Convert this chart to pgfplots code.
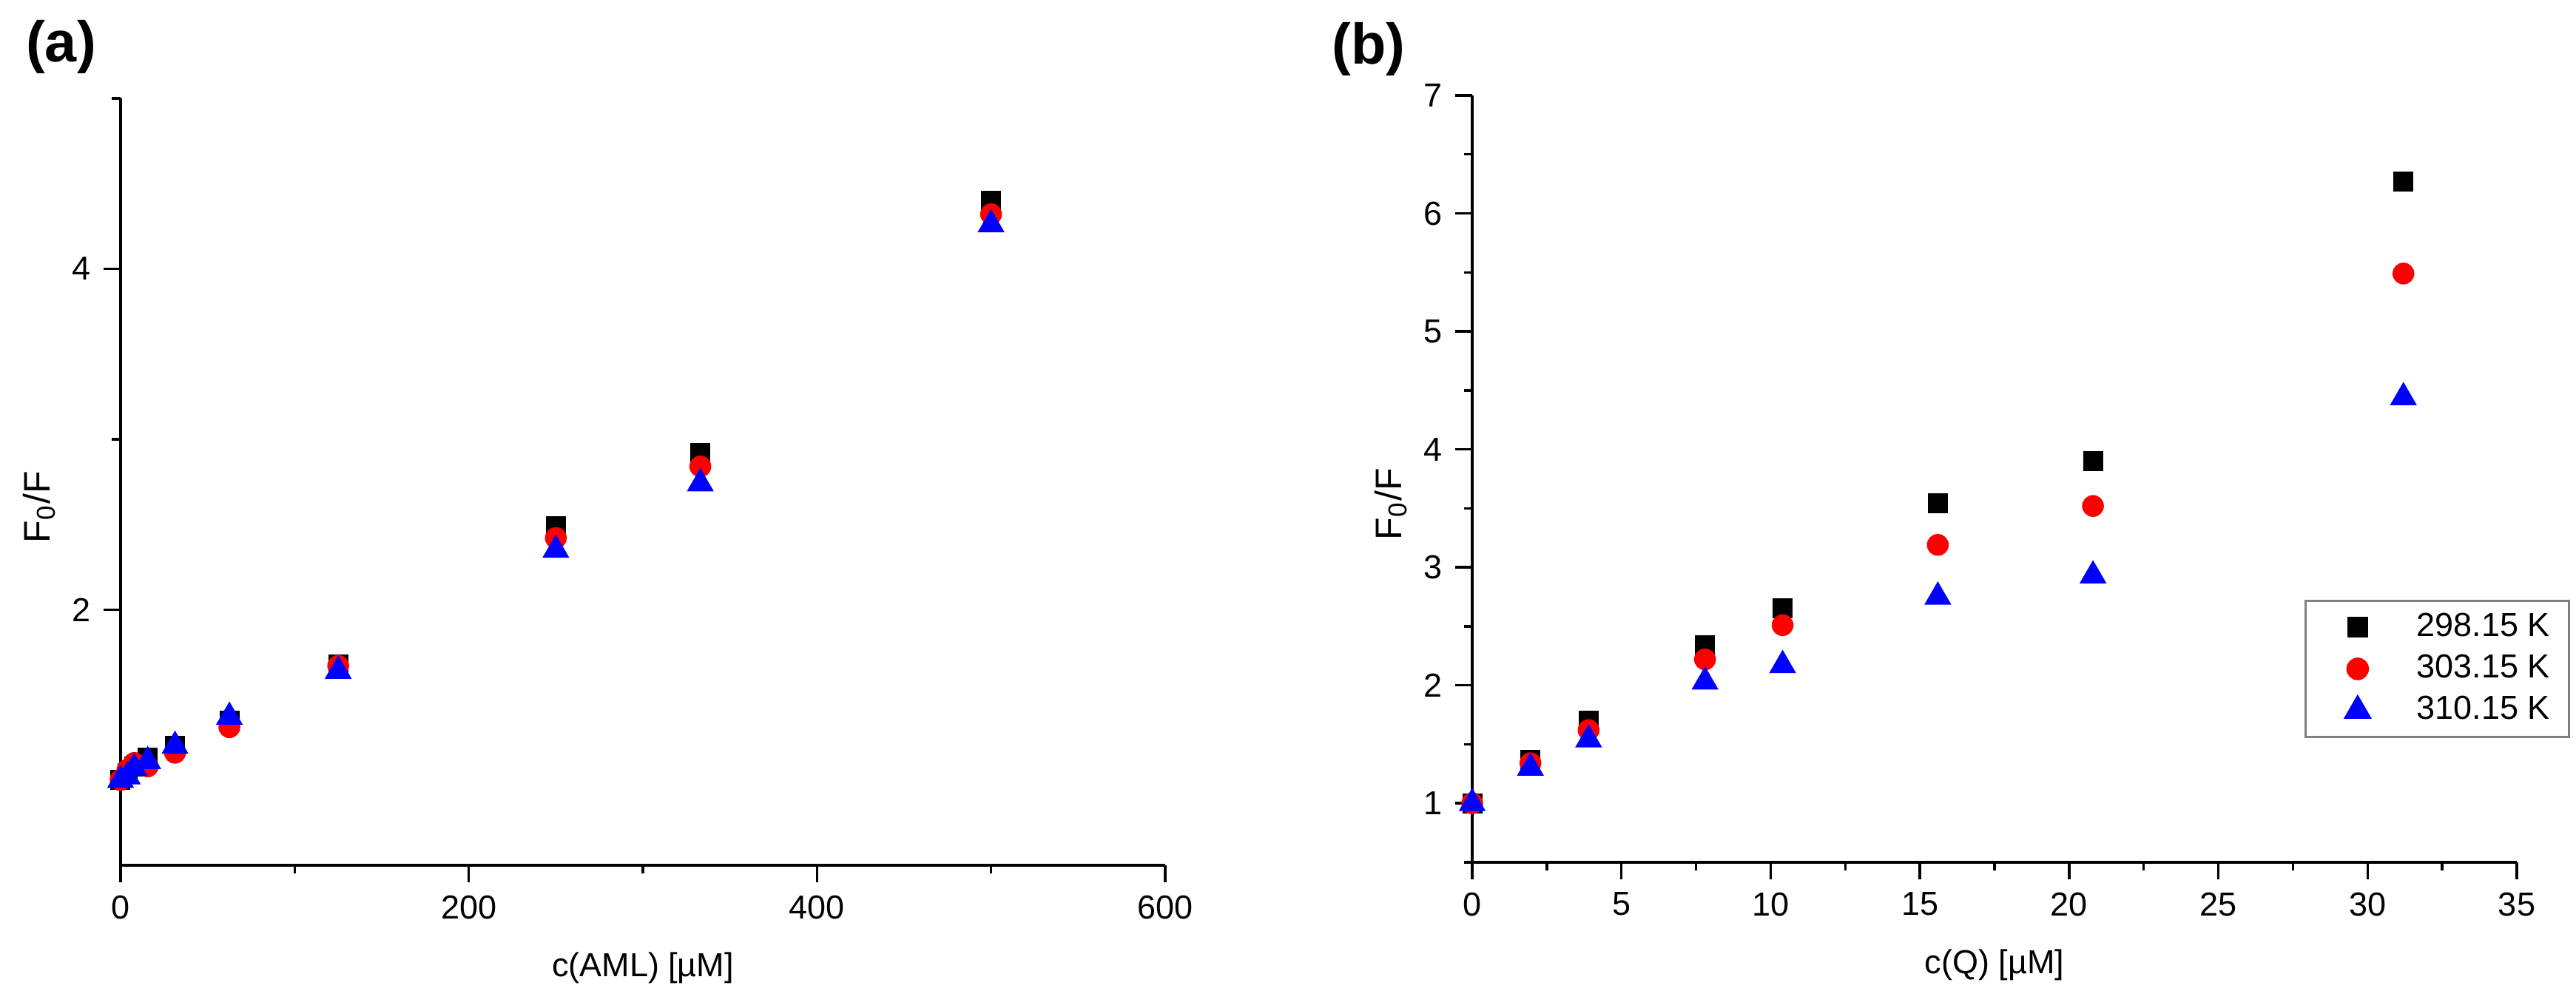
\documentclass[border=0pt]{standalone}
\usepackage{fontspec}
\setmainfont{Liberation Sans}
\usepackage{pgfplots}
\pgfplotsset{compat=1.18}

\pgfplotstableread{
x      s298  s303  s310
0      1.00  1.00  1.00
3.9    1.04  1.06  1.02
7.8    1.08  1.10  1.07
15.6   1.13  1.08  1.11
31.25  1.20  1.16  1.20
62.5   1.35  1.31  1.37
125    1.68  1.67  1.64
250    2.49  2.42  2.35
333    2.92  2.84  2.74
500    4.40  4.32  4.26
}\dataAML

\pgfplotstableread{
x      s298  s303  s310
0      1.00  1.00  1.00
1.95   1.37  1.34  1.30
3.9    1.70  1.62  1.54
7.8    2.34  2.22  2.03
10.4   2.65  2.51  2.17
15.6   3.54  3.19  2.75
20.8   3.90  3.52  2.93
31.2   6.27  5.49  4.44
}\dataQ

\newcommand{\lblfont}{\fontsize{9pt}{10.8pt}\selectfont}

\pgfplotsset{
  quench/.style={
    width=282.4pt, height=207.4pt, scale only axis,
    axis lines=left, axis line style={-, line width=0.7pt},
    tick align=outside,
    major tick length=4.6pt, minor tick length=2.3pt,
    every tick/.style={black, line width=0.7pt},
    tick label style={font=\lblfont},
    label style={font=\lblfont},
    /pgf/number format/assume math mode=true,
    clip=false,
    ylabel={F\textsubscript{0}/F},
    ylabel style={font=\fontsize{10pt}{12pt}\selectfont,
      at={(axis description cs:-0.078,0.467)}, anchor=center},
    xlabel style={at={(axis description cs:0.5,-0.134)}, anchor=center},
  },
  s298/.style={only marks, mark=square*, mark size=2.5pt, black, mark options={draw=black, fill=black}},
  s303/.style={only marks, mark=*, mark size=2.75pt, red, mark options={draw=red, fill=red}},
  s310/.style={only marks, mark=triangle*, mark size=3.8pt, blue, mark options={draw=blue, fill=blue}},
}

\begin{document}
\begin{tikzpicture}
\path[use as bounding box] (-32.6pt,-38.6pt) rectangle (663.8pt,234pt);

% (a) amlodipine
\begin{axis}[quench,
    at={(0pt,0pt)}, anchor=south west,
    xmin=0, xmax=600, ymin=0.5, ymax=5,
    xtick={0,200,400,600}, minor xtick={100,300,500},
    ytick={2,4}, minor ytick={1,3,5},
    xlabel={c(AML) [µM]},
    ]
\addplot[s298] table[x=x, y=s298] {\dataAML};
\addplot[s303] table[x=x, y=s303] {\dataAML};
\addplot[s310] table[x=x, y=s310] {\dataAML};
\node[font=\fontsize{15.5pt}{18pt}\selectfont\bfseries] at (axis description cs:-0.057,1.0675) {(a)};
\end{axis}

% (b) quercetin
\begin{axis}[quench,
    at={(365.4pt,0.8pt)}, anchor=south west,
    xmin=0, xmax=35, ymin=0.5, ymax=7,
    xtick={0,5,...,35}, minor xtick={2.5,7.5,...,32.5},
    ytick={1,...,7}, minor ytick={0.5,1.5,...,6.5},
    xlabel={c(Q) [µM]},
    legend cell align=left,
    legend image code/.code={%
      \path[draw=none, fill=none] (0pt,0pt) -- (19pt,0pt);
      \draw plot coordinates {(12pt,0pt)};},
    legend style={at={(axis description cs:0.797,0.342)}, anchor=north west,
      draw=gray, line width=0.6pt, font=\lblfont, row sep=0pt, column sep=6pt,
      inner xsep=2pt, inner ysep=1.4pt,
      nodes={inner xsep=3pt, inner ysep=1.75pt}},
    ]
\addplot[s298] table[x=x, y=s298] {\dataQ};
\addplot[s303] table[x=x, y=s303] {\dataQ};
\addplot[s310] table[x=x, y=s310] {\dataQ};
\legend{298.15 K, 303.15 K, 310.15 K}
\node[font=\fontsize{15.5pt}{18pt}\selectfont\bfseries] at (axis description cs:-0.099,1.06) {(b)};
\end{axis}
\end{tikzpicture}
\end{document}
